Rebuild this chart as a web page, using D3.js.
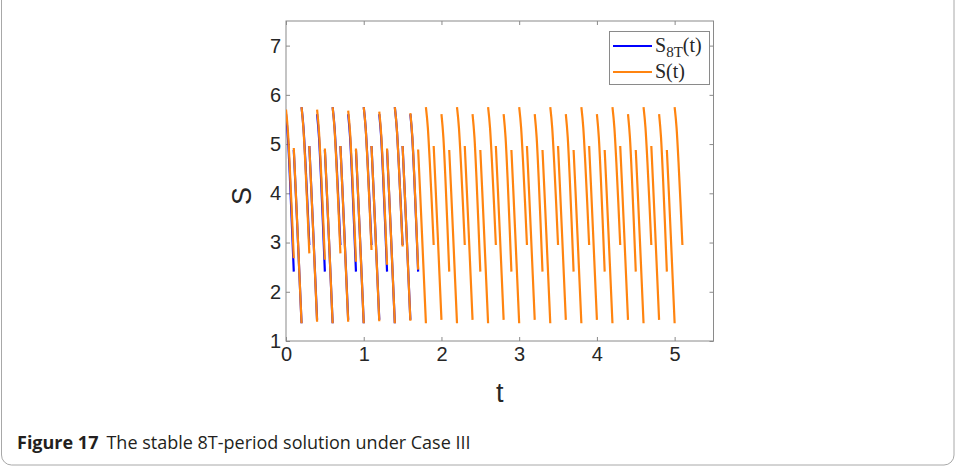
<!DOCTYPE html>
<html>
<head>
<meta charset="utf-8">
<script src="https://cdn.jsdelivr.net/npm/d3@7"></script>
<style>
  html, body { margin: 0; padding: 0; background: #fff; }
  svg { display: block; }
</style>
</head>
<body>
<div id="chart"></div>
<script>
// ---------------------------------------------------------
// DATA
// ---------------------------------------------------------

// start time of each impulse interval
var segStart = [0.0, 0.1, 0.2, 0.3, 0.4, 0.5, 0.6, 0.7, 0.8, 0.9,
  1.0, 1.1, 1.2, 1.3, 1.4, 1.5, 1.6, 1.7, 1.8, 1.9,
  2.0, 2.1, 2.2, 2.3, 2.4, 2.5, 2.6, 2.7, 2.8, 2.9,
  3.0, 3.1, 3.2, 3.3, 3.4, 3.5, 3.6, 3.7, 3.8, 3.9,
  4.0, 4.1, 4.2, 4.3, 4.4, 4.5, 4.6, 4.7, 4.8, 4.9, 5.0];

// sample offsets inside one interval
var subOffsets = [0, 0.025, 0.05, 0.075, 0.1];

// S(t) on each interval
var sValues = [
  [5.70, 5.25, 4.49, 3.62, 2.68],
  [4.92, 4.07, 3.18, 2.27, 1.36],
  [5.75, 5.30, 4.56, 3.70, 2.78],
  [4.96, 4.10, 3.21, 2.30, 1.39],
  [5.70, 5.24, 4.48, 3.60, 2.65],
  [4.91, 4.06, 3.17, 2.27, 1.36],
  [5.75, 5.30, 4.56, 3.70, 2.78],
  [4.96, 4.10, 3.21, 2.30, 1.39],
  [5.68, 5.22, 4.45, 3.56, 2.61],
  [4.91, 4.06, 3.17, 2.27, 1.36],
  [5.75, 5.32, 4.59, 3.75, 2.85],
  [4.96, 4.11, 3.22, 2.31, 1.40],
  [5.66, 5.19, 4.42, 3.51, 2.55],
  [4.91, 4.06, 3.17, 2.27, 1.36],
  [5.75, 5.33, 4.62, 3.80, 2.92],
  [4.96, 4.11, 3.22, 2.32, 1.41],
  [5.63, 5.15, 4.36, 3.44, 2.45],
  [4.89, 4.04, 3.16, 2.26, 1.36],
  [5.75, 5.33, 4.63, 3.82, 2.95],
  [4.96, 4.11, 3.23, 2.33, 1.43],
  [5.61, 5.13, 4.33, 3.40, 2.41],
  [4.88, 4.04, 3.16, 2.26, 1.36],
  [5.75, 5.33, 4.63, 3.82, 2.95],
  [4.96, 4.11, 3.23, 2.33, 1.43],
  [5.61, 5.13, 4.33, 3.40, 2.41],
  [4.88, 4.04, 3.16, 2.26, 1.36],
  [5.75, 5.33, 4.63, 3.82, 2.95],
  [4.96, 4.11, 3.23, 2.33, 1.43],
  [5.61, 5.13, 4.33, 3.40, 2.41],
  [4.88, 4.04, 3.16, 2.26, 1.36],
  [5.75, 5.33, 4.63, 3.82, 2.95],
  [4.96, 4.11, 3.23, 2.33, 1.43],
  [5.61, 5.13, 4.33, 3.40, 2.41],
  [4.88, 4.04, 3.16, 2.26, 1.36],
  [5.75, 5.33, 4.63, 3.82, 2.95],
  [4.96, 4.11, 3.23, 2.33, 1.43],
  [5.61, 5.13, 4.33, 3.40, 2.41],
  [4.88, 4.04, 3.16, 2.26, 1.36],
  [5.75, 5.33, 4.63, 3.82, 2.95],
  [4.96, 4.11, 3.23, 2.33, 1.43],
  [5.61, 5.13, 4.33, 3.40, 2.41],
  [4.88, 4.04, 3.16, 2.26, 1.36],
  [5.75, 5.33, 4.63, 3.82, 2.95],
  [4.96, 4.11, 3.23, 2.33, 1.43],
  [5.61, 5.13, 4.33, 3.40, 2.41],
  [4.88, 4.04, 3.16, 2.26, 1.36],
  [5.75, 5.33, 4.63, 3.82, 2.95],
  [4.96, 4.11, 3.23, 2.33, 1.43],
  [5.61, 5.13, 4.33, 3.40, 2.41],
  [4.88, 4.04, 3.16, 2.26, 1.36],
  [5.75, 5.33, 4.63, 3.82, 2.95]
];

// S_8T(t), the periodic solution, on the first intervals
var s8TValues = [
  [5.61, 5.13, 4.33, 3.40, 2.41],
  [4.88, 4.04, 3.16, 2.26, 1.36],
  [5.75, 5.33, 4.63, 3.82, 2.95],
  [4.96, 4.11, 3.23, 2.33, 1.43],
  [5.61, 5.13, 4.33, 3.40, 2.41],
  [4.88, 4.04, 3.16, 2.26, 1.36],
  [5.75, 5.33, 4.63, 3.82, 2.95],
  [4.96, 4.11, 3.23, 2.33, 1.43],
  [5.61, 5.13, 4.33, 3.40, 2.41],
  [4.88, 4.04, 3.16, 2.26, 1.36],
  [5.75, 5.33, 4.63, 3.82, 2.95],
  [4.96, 4.11, 3.23, 2.33, 1.43],
  [5.61, 5.13, 4.33, 3.40, 2.41],
  [4.88, 4.04, 3.16, 2.26, 1.36],
  [5.75, 5.33, 4.63, 3.82, 2.95],
  [4.96, 4.11, 3.23, 2.33, 1.43],
  [5.61, 5.13, 4.33, 3.40, 2.41]
];

var xTicks = [0, 1, 2, 3, 4, 5];
var yTicks = [1, 2, 3, 4, 5, 6, 7];
var legendLabels = ["S_8T(t)", "S(t)"];
var captionBold = "Figure 17";
var captionText = "The stable 8T-period solution under Case III";

// ---------------------------------------------------------
// SET UP
// ---------------------------------------------------------

var svgWidth = 956;
var svgHeight = 468;

var plot = { left: 286, right: 713.5, top: 21, bottom: 341 };

var blue = "#0000ff";
var orange = "#ff8410";
var axisColor = "#8a8a8a";
var textColor = "#262626";
var sansFont = "Liberation Sans, Arial, sans-serif";
var serifFont = "Liberation Serif, Times New Roman, serif";

var svg = d3.select("#chart")
  .append("svg")
  .attr("width", svgWidth)
  .attr("height", svgHeight);

// figure frame
svg.append("rect")
  .attr("x", 1.5)
  .attr("y", -20)
  .attr("width", 952.5)
  .attr("height", 485)
  .attr("rx", 10)
  .attr("fill", "none")
  .attr("stroke", "#a8a8a8")
  .attr("stroke-width", 1);

var xScale = d3.scaleLinear().domain([0, 5.5]).range([plot.left, plot.right]);
var yScale = d3.scaleLinear().domain([1, 7.5]).range([plot.bottom, plot.top]);

svg.append("clipPath")
  .attr("id", "plotClip")
  .append("rect")
  .attr("x", plot.left)
  .attr("y", plot.top)
  .attr("width", plot.right - plot.left)
  .attr("height", plot.bottom - plot.top);

// ---------------------------------------------------------
// AXES
// ---------------------------------------------------------

function styleAxis(g) {
  g.select(".domain").remove();
  g.selectAll("line").attr("stroke", axisColor);
  g.selectAll("text")
    .attr("fill", textColor)
    .attr("font-family", sansFont)
    .attr("font-size", "20px");
}

svg.append("g")
  .attr("transform", `translate(0, ${plot.bottom})`)
  .call(d3.axisBottom(xScale).tickValues(xTicks).tickSize(-4).tickPadding(6).tickFormat(d3.format("d")))
  .call(styleAxis);

svg.append("g")
  .attr("transform", `translate(0, ${plot.top})`)
  .call(d3.axisTop(xScale).tickValues(xTicks).tickSize(-4).tickFormat(""))
  .call(styleAxis);

svg.append("g")
  .attr("transform", `translate(${plot.left}, 0)`)
  .call(d3.axisLeft(yScale).tickValues(yTicks).tickSize(-4).tickPadding(5).tickFormat(d3.format("d")))
  .call(styleAxis);

svg.append("g")
  .attr("transform", `translate(${plot.right}, 0)`)
  .call(d3.axisRight(yScale).tickValues(yTicks).tickSize(-4).tickFormat(""))
  .call(styleAxis);

// box
svg.append("rect")
  .attr("x", plot.left)
  .attr("y", plot.top)
  .attr("width", plot.right - plot.left)
  .attr("height", plot.bottom - plot.top)
  .attr("fill", "none")
  .attr("stroke", axisColor)
  .attr("stroke-width", 1);

// axis labels
svg.append("text")
  .attr("x", (plot.left + plot.right) / 2)
  .attr("y", 402)
  .attr("text-anchor", "middle")
  .attr("font-family", sansFont)
  .attr("font-size", "27px")
  .attr("fill", textColor)
  .text("t");

svg.append("text")
  .attr("transform", `translate(251, 196) rotate(-90)`)
  .attr("text-anchor", "middle")
  .attr("font-family", sansFont)
  .attr("font-size", "27px")
  .attr("fill", textColor)
  .text("S");

// ---------------------------------------------------------
// LINES
// ---------------------------------------------------------

var lineGen = d3.line()
  .x(d => xScale(d.t))
  .y(d => yScale(d.s))
  .curve(d3.curveMonotoneX);

function toPoints(rows) {
  return rows.map((row, k) => row.map((s, i) => ({ t: segStart[k] + subOffsets[i], s: s })));
}

var lineGroup = svg.append("g").attr("clip-path", "url(#plotClip)");

lineGroup.selectAll(".s8t")
  .data(toPoints(s8TValues))
  .enter()
  .append("path")
  .attr("class", "s8t")
  .attr("d", lineGen)
  .attr("fill", "none")
  .attr("stroke", blue)
  .attr("stroke-width", 2.2);

lineGroup.selectAll(".st")
  .data(toPoints(sValues))
  .enter()
  .append("path")
  .attr("class", "st")
  .attr("d", lineGen)
  .attr("fill", "none")
  .attr("stroke", orange)
  .attr("stroke-width", 2.2);

// ---------------------------------------------------------
// LEGEND
// ---------------------------------------------------------

var legend = svg.append("g");

legend.append("rect")
  .attr("x", 609.5)
  .attr("y", 31.5)
  .attr("width", 100)
  .attr("height", 53)
  .attr("fill", "#fff")
  .attr("stroke", axisColor)
  .attr("stroke-width", 1);

[blue, orange].forEach(function(c, i) {
  var yy = 46 + i * 26;
  legend.append("line")
    .attr("x1", 613).attr("x2", 652)
    .attr("y1", yy).attr("y2", yy)
    .attr("stroke", c)
    .attr("stroke-width", 2);
});

var leg1 = legend.append("text")
  .attr("x", 655)
  .attr("y", 52)
  .attr("font-family", serifFont)
  .attr("font-size", "20px")
  .attr("fill", textColor);
leg1.append("tspan").text(legendLabels[0].split("_")[0]);
leg1.append("tspan").attr("font-size", "15px").attr("dy", 5).text(legendLabels[0].split("_")[1].replace("(t)", ""));
leg1.append("tspan").attr("dy", -5).text("(t)");

legend.append("text")
  .attr("x", 655)
  .attr("y", 78)
  .attr("font-family", serifFont)
  .attr("font-size", "20px")
  .attr("fill", textColor)
  .text(legendLabels[1]);

// ---------------------------------------------------------
// CAPTION
// ---------------------------------------------------------

var caption = svg.append("text")
  .attr("x", 17)
  .attr("y", 449)
  .attr("font-family", "Open Sans, Noto Sans, sans-serif")
  .attr("font-size", "18px")
  .attr("fill", "#231f20");
caption.append("tspan").attr("font-weight", "bold").text(captionBold);
caption.append("tspan").attr("dx", 8).text(captionText);
</script>
</body>
</html>
